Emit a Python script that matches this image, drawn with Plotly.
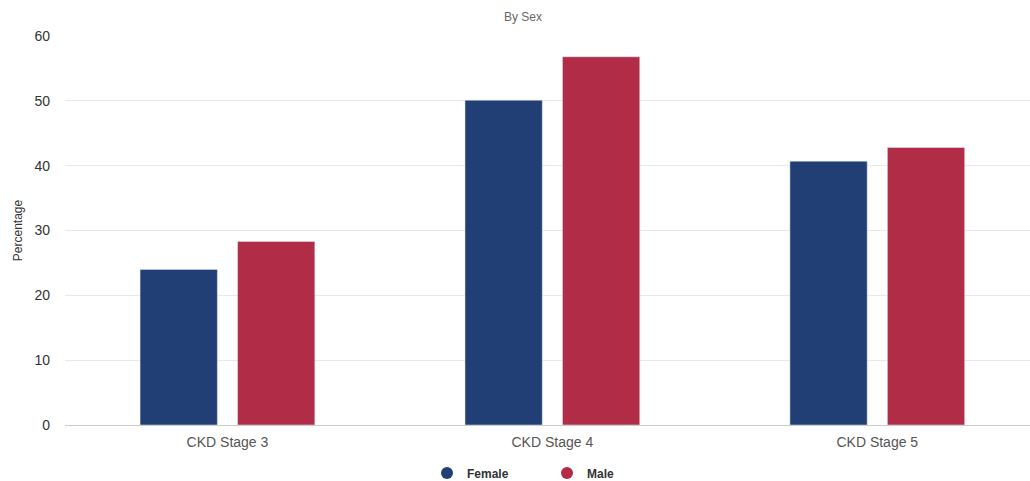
import plotly.graph_objects as go

categories = ["CKD Stage 3", "CKD Stage 4", "CKD Stage 5"]
female = [24.0, 50.1, 40.7]
male = [28.3, 56.8, 42.8]
y_ticks = [0, 10, 20, 30, 40, 50, 60]

navy = "#213f75"
red = "#b02c47"

fig = go.Figure()
fig.add_trace(go.Bar(x=categories, y=female, name="Female", marker_color=navy,
                     showlegend=False))
fig.add_trace(go.Bar(x=categories, y=male, name="Male", marker_color=red,
                     showlegend=False))
# legend entries with circle markers
fig.add_trace(go.Scatter(x=[None], y=[None], mode="markers", name="Female",
                         marker=dict(symbol="circle", size=17, color=navy)))
fig.add_trace(go.Scatter(x=[None], y=[None], mode="markers", name="Male",
                         marker=dict(symbol="circle", size=17, color=red)))

fig.update_layout(
    width=1030, height=481,
    margin=dict(l=65, r=0, t=36, b=56),
    paper_bgcolor="white", plot_bgcolor="white",
    font=dict(family="Liberation Sans, Arial, sans-serif", color="#333333"),
    barmode="group", bargap=0.40, bargroupgap=0.207,
    title=dict(text="By Sex", x=523/1030, xanchor="center", xref="container",
               y=1 - 17/481, yanchor="middle", yref="container",
               font=dict(size=12, color="#666666")),
    legend=dict(orientation="h", xref="container", x=427/1030, xanchor="left",
                yref="container", y=1 - 473/481, yanchor="middle",
                font=dict(size=12, color="#333333", weight="bold"),
                entrywidth=75, entrywidthmode="pixels",
                itemsizing="constant", borderwidth=0),
    showlegend=True,
)
fig.update_yaxes(range=[0, 60], tickvals=y_ticks, showgrid=True,
                 gridcolor="#e8e8e8", gridwidth=1, zeroline=False,
                 tickfont=dict(size=14, color="#333333"), ticklabelstandoff=14,
                 title=dict(text="Percentage", font=dict(size=12, color="#333333"),
                            standoff=9),
                 fixedrange=True)
fig.update_xaxes(range=[-0.5, 2.47], showline=True, linecolor="#cccccc", linewidth=1,
                 tickfont=dict(size=14, color="#555555"), ticks="",
                 ticklabelstandoff=4)

fig.write_html("out.html")
